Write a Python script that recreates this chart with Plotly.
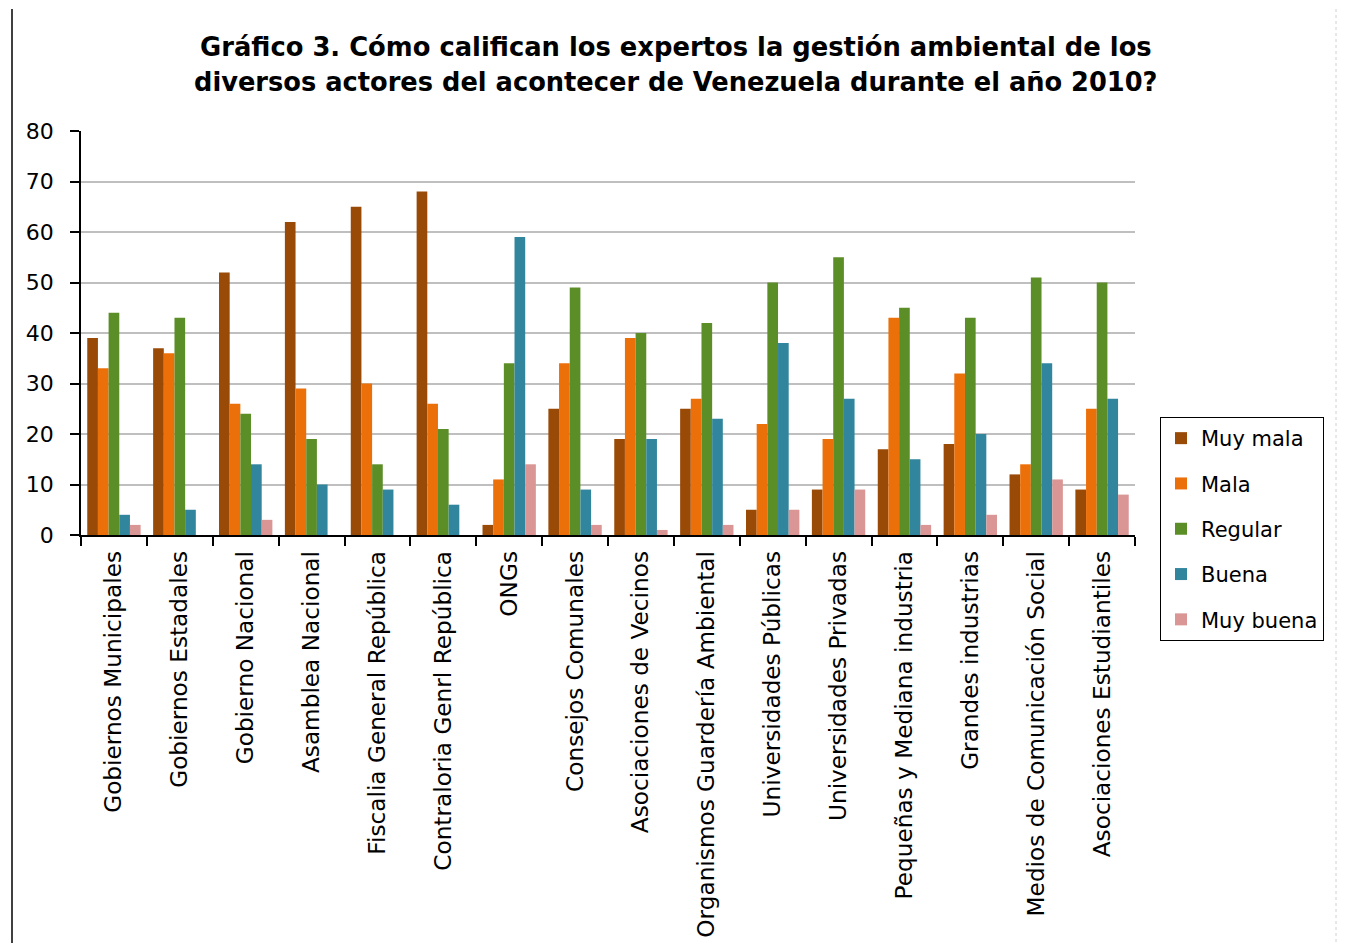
import plotly.graph_objects as go

categories = [
    "Gobiernos Municipales", "Gobiernos Estadales", "Gobierno Nacional",
    "Asamblea Nacional", "Fiscalia General República", "Contraloria Genrl República",
    "ONGs", "Consejos Comunales", "Asociaciones de Vecinos",
    "Organismos Guardería Ambiental", "Universidades Públicas", "Universidades Privadas",
    "Pequeñas y Mediana industria", "Grandes industrias",
    "Medios de Comunicación Social", "Asociaciones Estudiantiles",
]

muy_mala = [39, 37, 52, 62, 65, 68, 2, 25, 19, 25, 5, 9, 17, 18, 12, 9]
mala = [33, 36, 26, 29, 30, 26, 11, 34, 39, 27, 22, 19, 43, 32, 14, 25]
regular = [44, 43, 24, 19, 14, 21, 34, 49, 40, 42, 50, 55, 45, 43, 51, 50]
buena = [4, 5, 14, 10, 9, 6, 59, 9, 19, 23, 38, 27, 15, 20, 34, 27]
muy_buena = [2, 0, 3, 0, 0, 0, 14, 2, 1, 2, 5, 9, 2, 4, 11, 8]

series_names = ["Muy mala", "Mala", "Regular", "Buena", "Muy buena"]
series_values = [muy_mala, mala, regular, buena, muy_buena]
series_colors = ["#9A4A07", "#EC700A", "#5C8E28", "#31869E", "#DA9695"]

title_lines = [
    "Gráfico 3. Cómo califican los expertos la gestión ambiental de los",
    "diversos actores del acontecer de Venezuela durante el año 2010?",
]

OFF = 8  # page body margin
W, H = 1345 - 2 * OFF, 951 - 2 * OFF
# plot area in screenshot pixels
PL, PR, PT, PB = 81, 1135, 131, 535
pl, pr, pt, pb = PL - OFF, PR - OFF, PT - OFF, PB - OFF


def px_x(p):
    return (p - PL) / (PR - PL)


def px_y(p):
    return (PB - p) / (PB - PT)


FONT = "DejaVu Sans"

fig = go.Figure()
for name, vals, col in zip(series_names, series_values, series_colors):
    fig.add_trace(go.Bar(
        x=categories, y=vals, name=name, legendgroup=name,
        marker=dict(color=col, line=dict(width=0)),
    ))

annotations = []
for line, ypx, fs in zip(title_lines, [47, 82], [25.8, 25.7]):
    annotations.append(dict(
        text="<b>" + line + "</b>", xref="paper", yref="paper",
        x=px_x(676), y=px_y(ypx), xanchor="center", yanchor="middle",
        showarrow=False, font=dict(family=FONT, size=fs, color="black"),
    ))

shapes = [
    dict(type="line", xref="paper", yref="paper",
         x0=px_x(12), x1=px_x(12), y0=px_y(960), y1=px_y(9),
         line=dict(color="black", width=1.5)),
    dict(type="line", xref="paper", yref="paper",
         x0=px_x(1336), x1=px_x(1336), y0=px_y(960), y1=px_y(0),
         line=dict(color="#D0D0D0", width=1, dash="dot")),
]

fig.update_layout(
    width=W, height=H,
    margin=dict(l=pl, r=W - pr, t=pt, b=H - pb, pad=0, autoexpand=False),
    paper_bgcolor="white", plot_bgcolor="white",
    barmode="group", bargap=0.19, bargroupgap=0,
    font=dict(family=FONT, color="black"),
    annotations=annotations, shapes=shapes,
    legend=dict(
        x=px_x(1160), y=px_y(417), xanchor="left", yanchor="top",
        bordercolor="black", borderwidth=1, bgcolor="white",
        font=dict(family=FONT, size=21, color="black"),
        tracegroupgap=15, itemwidth=30,
    ),
    xaxis=dict(
        type="category", tickson="boundaries", ticks="outside", ticklen=9,
        tickcolor="black", tickwidth=1.5, showline=True, linecolor="black",
        linewidth=1.5, tickangle=-90, showgrid=False, automargin=False,
        tickfont=dict(family=FONT, size=23.2, color="black"),
        ticklabelstandoff=5,
    ),
    yaxis=dict(
        range=[0, 80], dtick=10, ticks="outside", ticklen=9, tickcolor="black",
        tickwidth=1.5, showline=True, linecolor="black", linewidth=1.5,
        showgrid=True, gridcolor="#BFBFBF", gridwidth=1.5, zeroline=False,
        automargin=False,
        tickfont=dict(family=FONT, size=22, color="black"),
        ticklabelstandoff=12,
    ),
)

fig.write_html("out.html")
